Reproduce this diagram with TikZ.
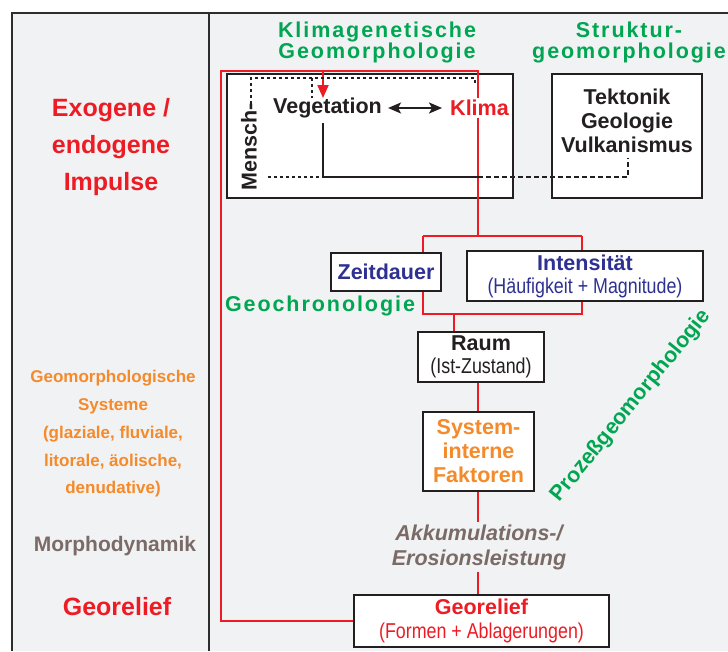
\documentclass[tikz,border=0pt]{standalone}
\usepackage{fontspec}
\setmainfont{Liberation Sans}
\newfontfamily\spacedfont[LetterSpace=9]{Liberation Sans}
\newfontfamily\narrowfont[FakeStretch=0.83]{Liberation Sans}
\usetikzlibrary{arrows.meta}
\newcommand\myfs[2]{\fontsize{#1}{#2}\selectfont}
\definecolor{bgc}{HTML}{F1F2F4}
\definecolor{framec}{HTML}{2D2D2D}
\definecolor{boxc}{HTML}{231F20}
\definecolor{myred}{HTML}{ED1C24}
\definecolor{mygreen}{HTML}{00A651}
\definecolor{navy}{HTML}{2E3192}
\definecolor{myorange}{HTML}{F58A2A}
\definecolor{mybrown}{HTML}{7B6B67}
\tikzset{
  box/.style={draw=boxc, line width=1.8pt, fill=white, inner sep=0pt, align=center},
  redl/.style={draw=myred, line width=2pt},
  blkl/.style={draw=boxc, line width=1.6pt},
  dotl/.style={draw=boxc, line width=1.5pt, dash pattern=on 3pt off 3pt},
  dashl/.style={draw=boxc, line width=2pt, dash pattern=on 5pt off 3pt},
  greenlabel/.style={text=mygreen, font=\spacedfont\bfseries\myfs{21.5}{21}, align=center, inner sep=0pt},
  maintext/.style={font=\bfseries\myfs{21.5}{24}, align=center},
}
\begin{document}
\begin{tikzpicture}[x=1pt,y=-1pt]
\useasboundingbox (0,0) rectangle (728,651);
\fill[bgc] (12,13) rectangle (728,651);
\draw[framec, line width=2.5pt] (728,13) -- (12,13) -- (12,651);
\draw[framec, line width=2pt] (209,13) -- (209,651);

% left column
\node[text=myred, font=\bfseries\myfs{25}{37}, align=center] (impulse) at (111,147) {Exogene /\\endogene\\Impulse};
\node[text=myorange, font=\bfseries\myfs{17}{27.75}, align=center] (systeme) at (113,434) {Geomorphologische\\Systeme\\(glaziale, fluviale,\\litorale, äolische,\\denudative)};
\node[text=mybrown, font=\bfseries\myfs{21}{24}] (morpho) at (115,546) {Morphodynamik};
\node[text=myred, font=\bfseries\myfs{25}{28}] (georelleft) at (117,607) {Georelief};

% green headings
\node[greenlabel] (klimagen) at (377,42) {Klimagenetische\\Geomorphologie};
\node[greenlabel] (struktur) at (629,42) {Struktur-\\geomorphologie};
\node[greenlabel] (geochron) at (320,306) {Geochronologie};
\node[text=mygreen, font=\bfseries\myfs{21.5}{24}, rotate=51, inner sep=0pt] (prozess) at (631,406) {Prozeßgeomorphologie};

% boxes
\node[box, minimum width=286pt, minimum height=124pt] (klimabox) at (370,136) {};
\node[box, minimum width=150pt, minimum height=124pt] (tekbox) at (627,136) {};
\node[box, minimum width=110pt, minimum height=38pt, text=navy, font=\bfseries\myfs{21.5}{23}] (zeit) at (386,272) {Zeitdauer};
\node[box, minimum width=236pt, minimum height=50pt, text=navy, font=\myfs{21.5}{23}] (int) at (585,276) {{\bfseries Intensität}\\{\narrowfont (Häufigkeit + Magnitude)}};
\node[box, minimum width=126pt, minimum height=50pt, text=boxc, font=\myfs{21.5}{23}] (raum) at (481,357) {{\bfseries Raum}\\{\narrowfont (Ist-Zustand)}};
\node[box, minimum width=111pt, minimum height=79pt, text=myorange, font=\bfseries\myfs{21.5}{24}] (sys) at (478.5,451.5) {System-\\interne\\Faktoren};
\node[box, minimum width=255pt, minimum height=52pt, text=myred, font=\myfs{21.5}{24}] (geo) at (481.5,621) {{\bfseries Georelief}\\{\narrowfont (Formen + Ablagerungen)}};

% coordinates
\coordinate (tlc) at (221,71);
\coordinate (trc) at (478,71);
\coordinate (j1) at (478,236);
\coordinate (jl) at (423,236);
\coordinate (jr) at (582,236);
\coordinate (bl) at (423,314);
\coordinate (br) at (582,314);
\coordinate (bm) at (454,314);
\coordinate (sx) at (478,400);
\coordinate (ra) at (323,71);
\coordinate (rb) at (323,98);
\coordinate (vb) at (323,123);
\coordinate (vc) at (323,177);
\coordinate (dj) at (478,177);
\coordinate (dk) at (628,177);
\coordinate (dt) at (628,158);
\coordinate (m1) at (251,104);
\coordinate (m2) at (251,78);
\coordinate (m3) at (475,78);
\coordinate (m4) at (475,85);
\coordinate (m5) at (312,78);
\coordinate (m6) at (312,98);
\coordinate (m7) at (268,177);

% red connectors
\draw[redl] (geo.west) -- (geo.west -| tlc) -- (tlc) -- (trc) -- (j1);
\draw[redl] (jl) -- (jr);
\draw[redl] (jl) -- (jl |- zeit.north);
\draw[redl] (jr) -- (jr |- int.north);
\draw[redl] (zeit.south -| bl) -- (bl) -- (br) -- (int.south -| br);
\draw[redl] (bm) -- (bm |- raum.north);
\draw[redl] (raum.south -| sx) -- (sys.north -| sx);
\draw[redl] (sys.south -| sx) -- (geo.north -| sx);
\draw[redl, -{Triangle[length=13pt,width=11pt]}] (ra) -- (rb);

% black connectors inside top box
\draw[dotl] (m1) -- (m2) -- (m3) -- (m4);
\draw[dotl] (m5) -- (m6);
\draw[dotl] (m7) -- (vc);
\draw[blkl] (vb) -- (vc) -- (dj);
\draw[dashl] (dj) -- (dk) -- (dt);

% text inside top boxes
\node[maintext, text=boxc, inner sep=5pt] (veg) at (327.5,108) {Vegetation};
\node[maintext, text=myred, fill=white, inner sep=2pt] (klima) at (479.5,108) {Klima};
\node[maintext, text=boxc, rotate=90, inner sep=2pt] (mensch) at (249,147) {Mensch-};
\node[maintext, text=boxc] (tek) at (627,121) {Tektonik\\Geologie\\Vulkanismus};
\draw[boxc, line width=2pt, {Stealth[length=13pt,width=11pt,inset=3pt]}-{Stealth[length=13pt,width=11pt,inset=3pt]}, shorten >=6pt, shorten <=1pt] (veg.east) -- (klima.west);

% Akkumulation label
\node[text=mybrown, font=\bfseries\itshape\myfs{21.5}{25}, align=center, fill=bgc, inner sep=2pt] (akk) at (479,547) {Akkumulations-/\\Erosionsleistung};
\end{tikzpicture}
\end{document}
